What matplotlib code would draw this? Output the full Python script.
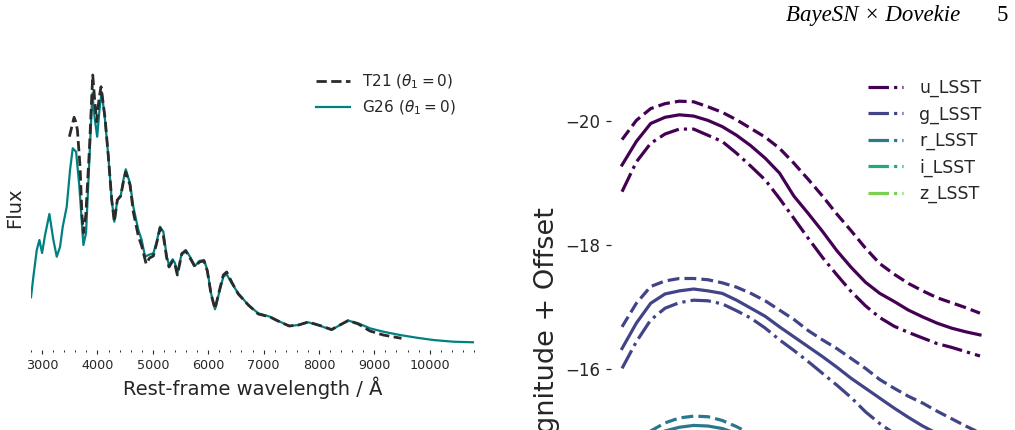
import numpy as np
import matplotlib
matplotlib.use("Agg")
import matplotlib.pyplot as plt
from matplotlib.ticker import MultipleLocator, FixedLocator

# ---------------- data: left panel (spectra) ----------------
g26_wave = [2800, 2843, 2904, 2952, 3000, 3054, 3132, 3204, 3265, 3325, 3373, 3445, 3505, 3554,
            3614, 3674, 3746, 3794, 3854, 3908, 3950, 3995, 4040, 4077, 4137, 4197, 4258, 4305,
            4359, 4420, 4468, 4511, 4588, 4648, 4738, 4799, 4859, 4919, 5009, 5070, 5130, 5190,
            5251, 5292, 5359, 5401, 5443, 5522, 5594, 5671, 5762, 5840, 5924, 5984, 6051, 6123,
            6195, 6273, 6334, 6424, 6543, 6724, 6904, 7116, 7296, 7464, 7630, 7806, 8018, 8229,
            8379, 8529, 8710, 8921, 9161, 9462, 9763, 10063, 10424, 10800]
g26_flux = [0.527, 0.733, 1.00, 1.10, 0.97, 1.15, 1.36, 1.10, 0.933, 1.033, 1.233, 1.433, 1.80, 2.017,
            1.983, 1.633, 1.05, 1.17, 1.90, 2.567, 2.32, 2.133, 2.42, 2.58, 2.30, 1.933, 1.50, 1.283,
            1.50, 1.54, 1.70, 1.807, 1.667, 1.433, 1.20, 1.10, 0.933, 0.95, 0.967, 1.083, 1.233, 1.183,
            0.933, 0.85, 0.907, 0.867, 0.767, 0.967, 1.00, 0.933, 0.84, 0.89, 0.90, 0.80, 0.567, 0.407,
            0.567, 0.733, 0.757, 0.667, 0.567, 0.45, 0.367, 0.333, 0.283, 0.24, 0.25, 0.277, 0.243, 0.20,
            0.25, 0.293, 0.267, 0.217, 0.183, 0.15, 0.123, 0.10, 0.083, 0.077]

t21_wave = [3493, 3578, 3610, 3638, 3686, 3720, 3746, 3790, 3854, 3915, 3950, 3987, 4030, 4065,
            4137, 4197, 4258, 4305, 4359, 4420, 4468, 4511, 4588, 4648, 4738, 4799, 4880, 4940,
            5009, 5070, 5130, 5190, 5251, 5292, 5359, 5401, 5443, 5522, 5594, 5671, 5762, 5840,
            5924, 5984, 6051, 6123, 6195, 6273, 6334, 6424, 6543, 6724, 6904, 7116, 7296, 7464,
            7630, 7806, 8018, 8229, 8379, 8529, 8710, 8921, 9161, 9490]
t21_flux = [2.133, 2.327, 2.28, 2.20, 1.833, 1.35, 1.17, 1.35, 2.00, 2.75, 2.50, 2.283, 2.52, 2.633,
            2.32, 1.933, 1.50, 1.283, 1.50, 1.54, 1.68, 1.78, 1.65, 1.38, 1.14, 1.04, 0.86, 0.92,
            0.94, 1.07, 1.22, 1.14, 0.92, 0.83, 0.89, 0.85, 0.75, 0.96, 0.99, 0.92, 0.83, 0.88,
            0.89, 0.79, 0.56, 0.41, 0.58, 0.75, 0.78, 0.68, 0.56, 0.45, 0.36, 0.33, 0.28, 0.24,
            0.25, 0.28, 0.245, 0.205, 0.25, 0.295, 0.26, 0.19, 0.15, 0.117]

spec_labels = [r"T21 ($\theta_1 = 0$)", r"G26 ($\theta_1 = 0$)"]
xtick_vals = [3000, 4000, 5000, 6000, 7000, 8000, 9000, 10000]

# ---------------- data: right panel (light curves) ----------------
phase = [-10, -8, -6, -4, -2, 0, 2, 4, 6, 8, 10, 12, 14, 16, 18, 20, 22, 24, 26, 28, 30, 32, 34, 36, 38, 40]
bands = ["u_LSST", "g_LSST", "r_LSST", "i_LSST", "z_LSST"]

u_solid = [-19.29, -19.67, -19.96, -20.06, -20.10, -20.08, -20.01, -19.91, -19.77, -19.60, -19.40, -19.16, -18.79,
           -18.51, -18.22, -17.91, -17.64, -17.40, -17.22, -17.09, -16.95, -16.84, -16.74, -16.66, -16.60, -16.55]
u_dash = [-19.70, -20.01, -20.20, -20.28, -20.32, -20.31, -20.23, -20.14, -20.02, -19.88, -19.74, -19.56, -19.32,
          -19.06, -18.79, -18.50, -18.23, -17.95, -17.70, -17.53, -17.38, -17.26, -17.15, -17.07, -16.99, -16.90]
u_dashdot = [-18.86, -19.34, -19.64, -19.79, -19.87, -19.87, -19.77, -19.67, -19.48, -19.27, -19.05, -18.75, -18.43,
             -18.11, -17.80, -17.52, -17.25, -17.02, -16.83, -16.69, -16.59, -16.50, -16.41, -16.35, -16.28, -16.21]

g_solid = [-16.33, -16.74, -17.06, -17.21, -17.26, -17.29, -17.26, -17.22, -17.11, -16.98, -16.85, -16.68, -16.52,
           -16.36, -16.20, -16.03, -15.85, -15.69, -15.53, -15.37, -15.22, -15.08, -14.96, -14.85, -14.75, -14.66]
g_dash = [-16.68, -17.06, -17.33, -17.42, -17.46, -17.46, -17.44, -17.39, -17.32, -17.22, -17.10, -16.95, -16.80,
          -16.62, -16.47, -16.33, -16.17, -16.01, -15.83, -15.69, -15.56, -15.45, -15.32, -15.20, -15.08, -14.97]
g_dashdot = [-16.01, -16.44, -16.79, -16.98, -17.07, -17.11, -17.10, -17.05, -16.94, -16.82, -16.66, -16.47, -16.30,
             -16.12, -15.93, -15.74, -15.54, -15.31, -15.12, -14.96, -14.81, -14.68, -14.56, -14.45, -14.36, -14.27]

r_solid = [-14.40, -14.65, -14.85, -15.00, -15.06, -15.09, -15.08, -15.04, -14.96, -14.85, -14.73, -14.62, -14.53,
           -14.46, -14.40, -14.36, -14.33, -14.30, -14.26, -14.20, -14.13, -14.06, -13.99, -13.92, -13.86, -13.80]
r_dash = [-14.55, -14.80, -15.00, -15.13, -15.21, -15.24, -15.23, -15.17, -15.07, -14.95, -14.82, -14.70, -14.60,
          -14.52, -14.45, -14.41, -14.38, -14.35, -14.31, -14.26, -14.19, -14.12, -14.05, -13.98, -13.92, -13.86]
r_dashdot = [-14.25, -14.50, -14.70, -14.84, -14.90, -14.93, -14.92, -14.88, -14.81, -14.71, -14.59, -14.48, -14.39,
             -14.32, -14.27, -14.23, -14.20, -14.17, -14.13, -14.07, -14.00, -13.93, -13.86, -13.79, -13.73, -13.67]

i_solid = [-12.10, -12.35, -12.52, -12.62, -12.66, -12.65, -12.58, -12.47, -12.35, -12.25, -12.20, -12.20, -12.24,
           -12.28, -12.30, -12.28, -12.22, -12.13, -12.02, -11.91, -11.80, -11.70, -11.61, -11.53, -11.46, -11.40]
i_dash = [-12.25, -12.50, -12.67, -12.77, -12.81, -12.80, -12.73, -12.62, -12.50, -12.40, -12.35, -12.35, -12.39,
          -12.43, -12.45, -12.43, -12.37, -12.28, -12.17, -12.06, -11.95, -11.85, -11.76, -11.68, -11.61, -11.55]
i_dashdot = [-11.95, -12.20, -12.37, -12.47, -12.51, -12.50, -12.43, -12.32, -12.20, -12.10, -12.05, -12.05, -12.09,
             -12.13, -12.15, -12.13, -12.07, -11.98, -11.87, -11.76, -11.65, -11.55, -11.46, -11.38, -11.31, -11.25]

z_solid = [-9.70, -9.92, -10.07, -10.15, -10.17, -10.14, -10.06, -9.96, -9.88, -9.84, -9.84, -9.88, -9.94,
           -9.99, -10.02, -10.01, -9.96, -9.88, -9.79, -9.69, -9.59, -9.50, -9.42, -9.35, -9.29, -9.24]
z_dash = [-9.85, -10.07, -10.22, -10.30, -10.32, -10.29, -10.21, -10.11, -10.03, -9.99, -9.99, -10.03, -10.09,
          -10.14, -10.17, -10.16, -10.11, -10.03, -9.94, -9.84, -9.74, -9.65, -9.57, -9.50, -9.44, -9.39]
z_dashdot = [-9.55, -9.77, -9.92, -10.00, -10.02, -9.99, -9.91, -9.81, -9.73, -9.69, -9.69, -9.73, -9.79,
             -9.84, -9.87, -9.86, -9.81, -9.73, -9.64, -9.54, -9.44, -9.35, -9.27, -9.20, -9.14, -9.09]

band_curves = {
    "u_LSST": (u_solid, u_dash, u_dashdot),
    "g_LSST": (g_solid, g_dash, g_dashdot),
    "r_LSST": (r_solid, r_dash, r_dashdot),
    "i_LSST": (i_solid, i_dash, i_dashdot),
    "z_LSST": (z_solid, z_dash, z_dashdot),
}
ytick_vals = [-20, -18, -16]

# ---------------- style ----------------
plt.rcParams["font.family"] = ["DejaVu Sans"]
plt.rcParams["text.color"] = "0.15"
plt.rcParams["axes.labelcolor"] = "0.15"
plt.rcParams["xtick.color"] = "0.15"
plt.rcParams["ytick.color"] = "0.15"

W, H = 1015, 430
fig = plt.figure(figsize=(W / 100, H / 100), dpi=100)

# ---------------- left panel ----------------
ax1 = fig.add_axes([31 / W, (H - 350) / H, (474 - 31) / W, (350 - 70) / H])
ax1.plot(t21_wave, t21_flux, color="#2b2b2b", lw=2.0, ls="--", label=spec_labels[0], zorder=3)
ax1.plot(g26_wave, g26_flux, color="#008080", lw=1.6, ls="-", label=spec_labels[1], zorder=2)
ax1.set_xlim(2800, 10800)
ax1.set_ylim(0, 2.8)
for s in ax1.spines.values():
    s.set_visible(False)
ax1.xaxis.set_major_locator(FixedLocator(xtick_vals))
ax1.xaxis.set_minor_locator(MultipleLocator(200))
ax1.tick_params(axis="x", which="major", length=3.2, width=0.8, pad=3.5, labelsize=9.2)
ax1.tick_params(axis="x", which="minor", length=1.6, width=0.7)
ax1.set_yticks([])
ax1.set_xlabel("Rest-frame wavelength / Å", fontsize=14, labelpad=3)
fig.text(15 / W, 1 - 208 / H, "Flux", rotation=90, ha="center", va="center", fontsize=14, color="0.15")
leg1 = ax1.legend(loc="upper left", bbox_to_anchor=(316 / W, 1 - 73 / H), bbox_transform=fig.transFigure,
                  frameon=False, fontsize=11, handlelength=2.2, handletextpad=0.8, labelspacing=0.45,
                  borderaxespad=0, borderpad=0)

# ---------------- right panel ----------------
ax2 = fig.add_axes([611 / W, 0, (990 - 611) / W, (H - 70) / H])
for b, c in zip(bands, plt.cm.viridis(np.linspace(0, 1, 6))[:5]):
    s_, d_, dd_ = band_curves[b]
    ax2.plot(phase, s_, color=c, lw=2.3, ls="-")
    ax2.plot(phase, d_, color=c, lw=2.3, ls="--")
    ax2.plot(phase, dd_, color=c, lw=2.3, ls="-.", label=b)
ax2.set_xlim(-11.54, 41.40)
ax2.set_ylim(-15.016, -20.823)
for s in ax2.spines.values():
    s.set_visible(False)
ax2.set_yticks(ytick_vals)
ax2.set_yticklabels([f"\u2212{abs(v)}" for v in ytick_vals])
ax2.tick_params(axis="y", length=3.5, width=0.9, pad=4, labelsize=12)
ax2.tick_params(axis="x", bottom=False, labelbottom=False)
fig.text(547 / W, 1 - 207 / H, "Magnitude + Offset", rotation=90, ha="center", va="top",
         fontsize=19.5, color="0.15")
leg2 = ax2.legend(loc="upper left", bbox_to_anchor=(868 / W, 1 - 79 / H), bbox_transform=fig.transFigure,
                  frameon=False, fontsize=12.5, handlelength=2.0, handletextpad=0.95, labelspacing=0.47,
                  borderaxespad=0, borderpad=0, labelcolor="linecolor")

# ---------------- page header ----------------
fig.text(960 / W, 1 - 21 / H, "BayeSN × Dovekie", ha="right", va="baseline",
         family=["Liberation Serif", "DejaVu Serif"], style="italic", fontsize=16.5, color="black")
fig.text(1008 / W, 1 - 21 / H, "5", ha="right", va="baseline",
         family=["Liberation Serif", "DejaVu Serif"], fontsize=16.5, color="black")

fig.savefig("out.png", dpi=100)
